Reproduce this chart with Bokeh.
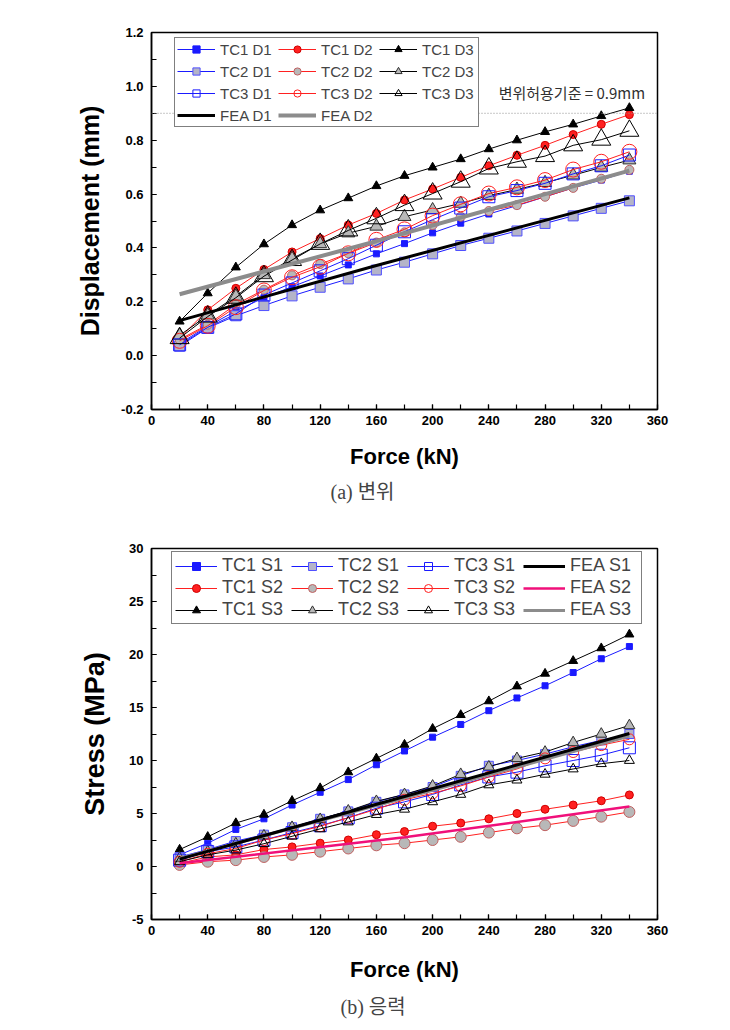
from bokeh.plotting import figure
from bokeh.models import (FixedTicker, PrintfTickFormatter, Legend, LegendItem,
                          Title, Span, Label, Range1d)
from bokeh.layouts import column
from bokeh.embed import file_html
from bokeh.resources import INLINE

# ---------------- data ----------------
force = [20, 40, 60, 80, 100, 120, 140, 160, 180, 200, 220, 240, 260, 280, 300, 320, 340]
x_ticks = [0, 40, 80, 120, 160, 200, 240, 280, 320, 360]
x_minor = [0, 20, 40, 60, 80, 100, 120, 140, 160, 180, 200, 220, 240, 260, 280, 300, 320, 340, 360]

# (a) displacement (mm)
tc1_d1 = [0.045, 0.109, 0.166, 0.215, 0.256, 0.296, 0.337, 0.378, 0.416, 0.456, 0.492, 0.526, 0.557, 0.590, 0.623, 0.652, 0.685]
tc2_d1 = [0.035, 0.103, 0.148, 0.186, 0.222, 0.254, 0.285, 0.318, 0.347, 0.378, 0.409, 0.436, 0.463, 0.491, 0.519, 0.547, 0.575]
tc3_d1 = [0.040, 0.105, 0.155, 0.225, 0.270, 0.315, 0.360, 0.410, 0.460, 0.505, 0.548, 0.590, 0.613, 0.640, 0.675, 0.705, 0.745]
tc1_d2 = [0.065, 0.170, 0.250, 0.320, 0.385, 0.435, 0.485, 0.528, 0.578, 0.619, 0.662, 0.705, 0.744, 0.781, 0.821, 0.859, 0.895]
tc2_d2 = [0.060, 0.115, 0.190, 0.245, 0.298, 0.340, 0.380, 0.420, 0.458, 0.485, 0.516, 0.537, 0.559, 0.590, 0.623, 0.657, 0.690]
tc3_d2 = [0.055, 0.111, 0.180, 0.242, 0.291, 0.330, 0.380, 0.430, 0.469, 0.520, 0.562, 0.602, 0.625, 0.652, 0.691, 0.720, 0.757]
tc1_d3 = [0.127, 0.232, 0.328, 0.414, 0.485, 0.540, 0.585, 0.630, 0.668, 0.699, 0.730, 0.767, 0.800, 0.831, 0.859, 0.890, 0.920]
tc2_d3 = [0.075, 0.150, 0.220, 0.300, 0.360, 0.415, 0.455, 0.480, 0.516, 0.541, 0.565, 0.594, 0.617, 0.642, 0.670, 0.699, 0.726]
tc3_d3 = [0.065, 0.145, 0.215, 0.295, 0.355, 0.415, 0.465, 0.510, 0.559, 0.602, 0.646, 0.695, 0.720, 0.741, 0.781, 0.802, 0.835]
fea_force_d = [20, 160, 340]
fea_d1 = [0.130, 0.335, 0.586]
fea_d2 = [0.228, 0.425, 0.687]
d_ticks = [-0.2, 0.0, 0.2, 0.4, 0.6, 0.8, 1.0, 1.2]
d_minor = [-0.2, -0.1, 0.0, 0.1, 0.2, 0.3, 0.4, 0.5, 0.6, 0.7, 0.8, 0.9, 1.0, 1.1, 1.2]
d_limit = 0.9

# (b) stress (MPa)
tc1_s1 = [1.1, 2.2, 3.5, 4.5, 5.8, 7.0, 8.2, 9.6, 10.9, 12.2, 13.4, 14.7, 15.9, 17.05, 18.3, 19.6, 20.75]
tc2_s1 = [0.9, 1.6, 2.4, 3.0, 3.7, 4.5, 5.2, 6.1, 6.8, 7.5, 8.55, 9.5, 10.0, 10.6, 11.3, 11.9, 12.5]
tc3_s1 = [0.6, 1.4, 1.85, 2.5, 3.2, 3.85, 4.6, 5.5, 6.1, 6.8, 7.7, 8.45, 8.9, 9.5, 10.0, 10.5, 11.2]
tc1_s2 = [0.3, 0.9, 1.1, 1.6, 1.85, 2.2, 2.5, 3.0, 3.3, 3.8, 4.1, 4.5, 5.0, 5.4, 5.8, 6.2, 6.75]
tc2_s2 = [0.15, 0.45, 0.6, 0.9, 1.1, 1.4, 1.7, 2.0, 2.2, 2.5, 2.8, 3.2, 3.6, 3.9, 4.3, 4.7, 5.15]
tc3_s2 = [0.45, 1.2, 1.7, 2.5, 3.1, 3.8, 4.6, 5.4, 6.3, 6.9, 7.6, 8.45, 9.2, 10.2, 10.8, 11.45, 12.0]
tc1_s3 = [1.6, 2.8, 4.1, 4.9, 6.2, 7.4, 8.9, 10.2, 11.5, 13.0, 14.3, 15.6, 17.0, 18.2, 19.4, 20.6, 21.9]
tc2_s3 = [0.8, 1.4, 2.15, 2.9, 3.7, 4.45, 5.25, 6.15, 6.8, 7.6, 8.7, 9.4, 10.2, 10.8, 11.7, 12.5, 13.3]
tc3_s3 = [0.45, 1.1, 1.55, 2.15, 2.85, 3.55, 4.2, 4.9, 5.4, 6.1, 6.8, 7.7, 8.15, 8.7, 9.2, 9.7, 10.0]
fea_force_s = [20, 180, 340]
fea_s1 = [0.70, 6.60, 12.55]
fea_s2 = [0.30, 2.75, 5.65]
fea_s3 = [0.75, 6.45, 12.30]
s_ticks = [-5, 0, 5, 10, 15, 20, 25, 30]
s_minor = [-5, -2.5, 0, 2.5, 5, 7.5, 10, 12.5, 15, 17.5, 20, 22.5, 25, 27.5, 30]

BLUE = "#1a1aff"
RED = "#ff2020"
BLACK = "#000000"
GREY_FILL = "#b8b8b8"
SQ_FILL = "#b4b4c8"

SANS = "Liberation Sans"
CAPTION_FONT = "Liberation Serif, Noto Sans CJK KR"


def style_axes(p, yticks, yminor, yfmt, ylabel, ylabel_size, ylabel_standoff, xlabel_standoff):
    p.xaxis.ticker = FixedTicker(ticks=x_ticks, minor_ticks=x_minor)
    p.yaxis.ticker = FixedTicker(ticks=yticks, minor_ticks=yminor)
    p.yaxis.formatter = PrintfTickFormatter(format=yfmt)
    p.xaxis.axis_label = "Force (kN)"
    p.yaxis.axis_label = ylabel
    for ax in (p.xaxis[0], p.yaxis[0]):
        ax.major_tick_in = 5
        ax.major_tick_out = 0
        ax.minor_tick_in = 5
        ax.minor_tick_out = 0
        ax.major_tick_line_width = 1.2
        ax.minor_tick_line_width = 1.2
        ax.axis_line_width = 1.5
        ax.axis_line_color = "black"
        ax.major_label_text_font = SANS
        ax.major_label_text_font_style = "bold"
        ax.major_label_text_font_size = "13px"
        ax.major_label_text_color = "black"
        ax.axis_label_text_font = SANS
        ax.axis_label_text_font_style = "bold"
        ax.axis_label_text_color = "black"
        ax.major_label_standoff = 6
    p.xaxis.axis_label_text_font_size = "22px"
    p.xaxis.axis_label_standoff = xlabel_standoff
    p.yaxis.axis_label_text_font_size = ylabel_size
    p.yaxis.axis_label_standoff = ylabel_standoff
    p.yaxis.major_label_standoff = 8
    p.xgrid.grid_line_color = None
    p.ygrid.grid_line_color = None
    p.outline_line_color = "black"
    p.outline_line_width = 1.5
    p.outline_line_alpha = 1.0
    p.background_fill_color = "white"
    p.border_fill_color = "white"


def series(p, y, color, marker, size, fill, edge):
    rl = p.line(force, y, line_color=color, line_width=1)
    rm = p.scatter(force, y, marker=marker, size=size, fill_color=fill,
                   line_color=edge, line_width=1)
    return [rl, rm]


# ================= (a) Displacement =================
p1 = figure(width=720, height=510, output_backend="svg", toolbar_location=None,
            title=None, x_range=Range1d(0, 360), y_range=Range1d(-0.2, 1.2),
            min_border_left=151, min_border_right=56, min_border_top=32,
            min_border_bottom=100)
style_axes(p1, d_ticks, d_minor, "%.1f", "Displacement (mm)", "25px", 14, 16)

p1.add_layout(Span(location=d_limit, dimension="width", line_color="#909090",
                   line_width=1, line_dash="1 2"))
p1.add_layout(Label(x=247, y=0.976, text="변위허용기준 = 0.9mm",
                    text_font="Noto Sans CJK KR", text_font_size="15px",
                    text_color="#303030", text_baseline="middle"))

r = {}
r["TC1 D1"] = series(p1, tc1_d1, BLUE, "square", 6, BLUE, BLUE)
r["TC1 D2"] = series(p1, tc1_d2, RED, "circle", 8, RED, "#d00000")
r["TC1 D3"] = series(p1, tc1_d3, BLACK, "triangle", 9, BLACK, BLACK)
r["TC2 D1"] = series(p1, tc2_d1, BLUE, "square", 10, SQ_FILL, "#5050ff")
r["TC2 D2"] = series(p1, tc2_d2, RED, "circle", 9, GREY_FILL, "#c06060")
r["TC2 D3"] = series(p1, tc2_d3, BLACK, "triangle", 13, GREY_FILL, "#303030")
r["TC3 D1"] = series(p1, tc3_d1, BLUE, "square", 12, None, BLUE)
r["TC3 D2"] = series(p1, tc3_d2, RED, "circle", 15, None, RED)
r["TC3 D3"] = series(p1, tc3_d3, BLACK, "triangle", 19, None, BLACK)
r["FEA D1"] = [p1.line(fea_force_d, fea_d1, line_color="black", line_width=3)]
r["FEA D2"] = [p1.line(fea_force_d, fea_d2, line_color="#8c8c8c", line_width=4)]

order1 = ["TC1 D1", "TC1 D2", "TC1 D3", "TC2 D1", "TC2 D2", "TC2 D3",
          "TC3 D1", "TC3 D2", "TC3 D3", "FEA D1", "FEA D2"]
leg1 = Legend(items=[LegendItem(label=k, renderers=r[k]) for k in order1],
              location=(23, 282), orientation="horizontal", ncols=3,
              glyph_width=38, glyph_height=18, label_height=18, label_width=54,
              label_standoff=5, spacing=4, padding=2, margin=0,
              label_text_font=SANS, label_text_font_size="15px",
              border_line_color="black", border_line_width=1,
              background_fill_alpha=1.0)
p1.add_layout(leg1)
p1.add_layout(Title(text="(a) 변위", align="left", offset=179,
                    text_font=CAPTION_FONT,
                    text_font_size="20px", text_font_style="normal",
                    standoff=15), "below")

# ================= (b) Stress =================
p2 = figure(width=720, height=517, output_backend="svg", toolbar_location=None,
            title=None, x_range=Range1d(0, 360), y_range=Range1d(-5, 30),
            min_border_left=141, min_border_right=63, min_border_top=38,
            min_border_bottom=100)
style_axes(p2, s_ticks, s_minor, "%d", "Stress (MPa)", "27px", 16, 19)

q = {}
q["TC1 S1"] = series(p2, tc1_s1, BLUE, "square", 6, BLUE, BLUE)
q["TC1 S2"] = series(p2, tc1_s2, RED, "circle", 8, RED, "#d00000")
q["TC1 S3"] = series(p2, tc1_s3, BLACK, "triangle", 9, BLACK, BLACK)
q["TC2 S1"] = series(p2, tc2_s1, BLUE, "square", 9, SQ_FILL, "#5050ff")
q["TC2 S2"] = series(p2, tc2_s2, RED, "circle", 11, GREY_FILL, "#c06060")
q["TC2 S3"] = series(p2, tc2_s3, BLACK, "triangle", 11, GREY_FILL, "#303030")
q["TC3 S1"] = series(p2, tc3_s1, BLUE, "square", 12, None, BLUE)
q["TC3 S2"] = series(p2, tc3_s2, RED, "circle", 11, None, RED)
q["TC3 S3"] = series(p2, tc3_s3, BLACK, "triangle", 10, None, BLACK)
q["FEA S2"] = [p2.line(fea_force_s, fea_s2, line_color="#f0107a", line_width=2.5)]
q["FEA S3"] = [p2.line(fea_force_s, fea_s3, line_color="#8c8c8c", line_width=3)]
q["FEA S1"] = [p2.line(fea_force_s, fea_s1, line_color="black", line_width=3)]

order2 = ["TC1 S1", "TC2 S1", "TC3 S1", "FEA S1",
          "TC1 S2", "TC2 S2", "TC3 S2", "FEA S2",
          "TC1 S3", "TC2 S3", "TC3 S3", "FEA S3"]
leg2 = Legend(items=[LegendItem(label=k, renderers=q[k]) for k in order2],
              location=(20, 295), orientation="horizontal", ncols=4,
              glyph_width=42, glyph_height=20, label_height=20, label_width=68,
              label_standoff=5, spacing=1, padding=3, margin=0,
              label_text_font=SANS, label_text_font_size="18px",
              border_line_color="black", border_line_width=1,
              background_fill_alpha=1.0)
p2.add_layout(leg2)
p2.add_layout(Title(text="(b) 응력", align="left", offset=189,
                    text_font=CAPTION_FONT,
                    text_font_size="20px", text_font_style="normal",
                    standoff=19), "below")

page = column(p1, p2, spacing=0)
open("out.html", "w").write(file_html(page, INLINE))
